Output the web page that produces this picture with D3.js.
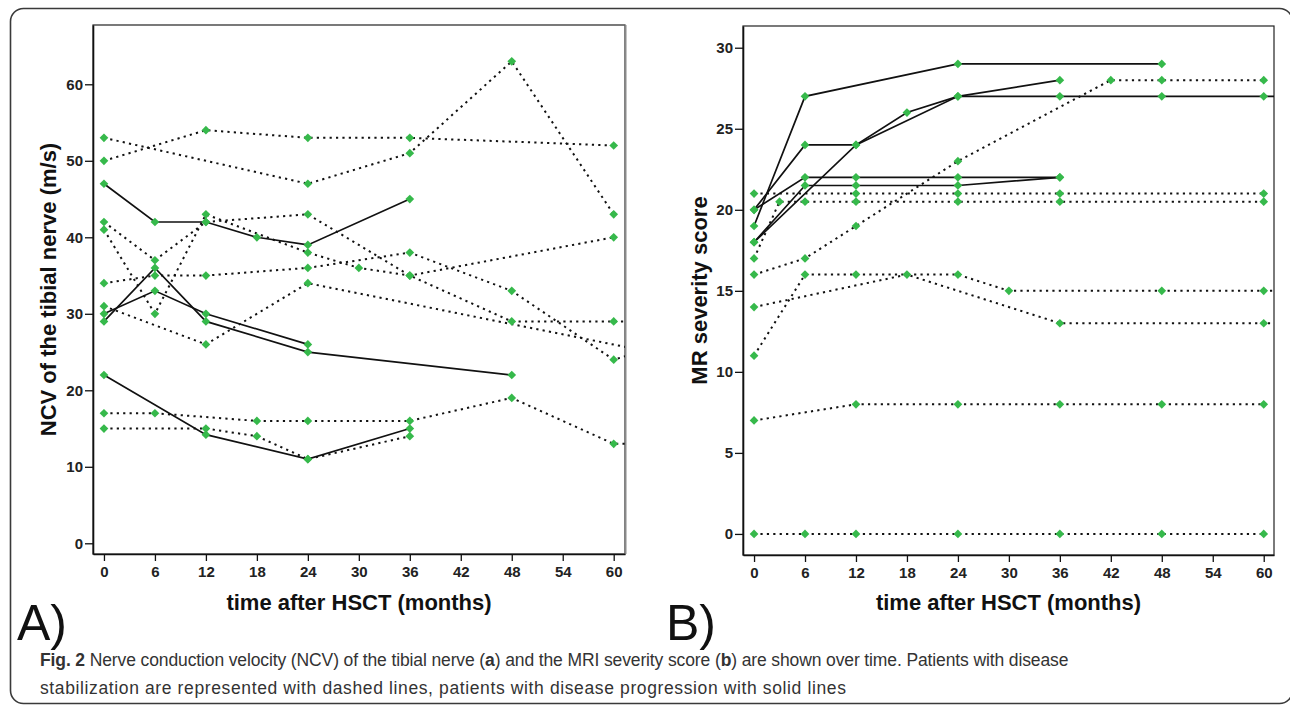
<!DOCTYPE html>
<html>
<head>
<meta charset="utf-8">
<script src="https://d3js.org/d3.v7.min.js"></script>
<style>
body { margin: 0; background: #fff; }
text { font-family: "Liberation Sans", Arial, sans-serif; }
</style>
</head>
<body>
<script>
// tick values
const months = [0, 6, 12, 18, 24, 30, 36, 42, 48, 54, 60];
const ncvTicks = [0, 10, 20, 30, 40, 50, 60];
const mrTicks = [0, 5, 10, 15, 20, 25, 30];

// A) NCV of the tibial nerve (m/s), one array per patient: [month, value]
// points past 60 months fall outside the frame and only show as clipped lines
const ncvStable = [
    [[0, 53], [24, 47], [36, 51], [48, 63], [60, 43]],
    [[0, 50], [12, 54], [24, 53], [36, 53], [60, 52]],
    [[0, 42], [6, 37], [12, 42], [24, 43], [36, 35], [48, 29], [60, 29], [72, 29]],
    [[0, 41], [6, 30], [12, 43], [24, 38], [30, 36], [36, 35], [60, 40]],
    [[0, 34], [6, 35], [12, 35], [24, 36], [36, 38], [48, 33], [60, 24], [72, 28]],
    [[0, 31], [12, 26], [24, 34], [72, 23.3]],
    [[0, 17], [6, 17], [18, 16], [24, 16], [36, 16], [48, 19], [60, 13], [72, 13]],
    [[0, 15], [12, 15], [18, 14], [24, 11], [36, 14]]
];
const ncvProgression = [
    [[0, 47], [6, 42], [12, 42], [18, 40], [24, 39], [36, 45]],
    [[0, 30], [6, 33], [12, 30], [24, 26]],
    [[0, 29], [6, 36], [12, 29], [24, 25], [48, 22]],
    [[0, 22], [12, 14.2], [24, 11], [36, 15]]
];

// B) MR severity score
const mrStable = [
    [[0, 21], [12, 21], [24, 21], [36, 21], [60, 21]],
    [[0, 17], [3, 20.5], [6, 20.5], [12, 20.5], [24, 20.5], [36, 20.5], [60, 20.5]],
    [[0, 16], [6, 17], [12, 19], [24, 23], [42, 28], [48, 28], [60, 28]],
    [[0, 14], [18, 16], [36, 13], [60, 13], [72, 13]],
    [[0, 11], [6, 16], [12, 16], [24, 16], [30, 15], [48, 15], [60, 15], [72, 15]],
    [[0, 7], [12, 8], [24, 8], [36, 8], [48, 8], [60, 8]],
    [[0, 0], [6, 0], [12, 0], [24, 0], [36, 0], [48, 0], [60, 0]]
];
const mrProgression = [
    [[0, 19], [6, 27], [24, 29], [48, 29]],
    [[0, 20], [6, 24], [12, 24], [18, 26], [24, 27], [36, 28]],
    [[0, 18], [12, 24], [24, 27], [36, 27], [48, 27], [60, 27], [72, 27]],
    [[0, 20], [6, 22], [12, 22], [24, 22], [36, 22]],
    [[0, 18], [6, 21.5], [12, 21.5], [24, 21.5], [36, 22]]
];

const width = 1290, height = 711;
const green = "#36b94b";

let svg = d3.select("body").append("svg")
    .attr("width", width)
    .attr("height", height);

// rounded figure border
svg.append("rect")
    .attr("x", 10.5).attr("y", 8.5)
    .attr("width", 1282).attr("height", 695)
    .attr("rx", 13)
    .attr("fill", "none")
    .attr("stroke", "#3a3a3a")
    .attr("stroke-width", 1.6);

function drawPanel(p) {
    let xScale = d3.scaleLinear().domain(p.xDomain).range([p.left, p.right]);
    let yScale = d3.scaleLinear().domain(p.yDomain).range([p.bottom, p.top]);

    let g = svg.append("g");

    g.append("clipPath").attr("id", p.id + "clip")
        .append("rect")
        .attr("x", p.left).attr("y", p.top)
        .attr("width", p.right - p.left).attr("height", p.bottom - p.top);

    // plot frame
    g.append("rect")
        .attr("x", p.left).attr("y", p.top)
        .attr("width", p.right - p.left).attr("height", p.bottom - p.top)
        .attr("fill", "none")
        .attr("stroke", "#222")
        .attr("stroke-width", 1.2);
    if (p.grayRight) {
        g.append("line")
            .attr("x1", p.right + 0.5).attr("x2", p.right + 0.5)
            .attr("y1", p.top).attr("y2", p.bottom)
            .attr("stroke", "#8a8a8a").attr("stroke-width", 2);
    }

    let xAxis = d3.axisBottom(xScale).tickValues(months).tickSize(7).tickSizeOuter(0).tickPadding(5);
    let yAxis = d3.axisLeft(yScale).tickValues(p.yTicks).tickSize(8).tickSizeOuter(0).tickPadding(2);

    g.append("g")
        .attr("transform", "translate(0," + p.bottom + ")")
        .call(xAxis);
    g.append("g")
        .attr("transform", "translate(" + p.left + ",0)")
        .call(yAxis);

    g.selectAll(".domain").attr("stroke", "#111").attr("stroke-width", 1.6);
    g.selectAll(".tick line").attr("stroke", "#111").attr("stroke-width", 1.3);
    g.selectAll(".tick text")
        .attr("fill", "#222")
        .style("font-size", "15px")
        .style("font-weight", "bold")
        .style("font-family", "'Liberation Sans', Arial, sans-serif");

    let line = d3.line()
        .x(d => xScale(d[0]))
        .y(d => yScale(d[1]));

    let lines = g.append("g").attr("clip-path", "url(#" + p.id + "clip)");

    lines.selectAll("path.stable")
        .data(p.stable)
        .enter().append("path")
        .attr("class", "stable")
        .attr("d", line)
        .attr("fill", "none")
        .attr("stroke", "#111")
        .attr("stroke-width", 2)
        .attr("stroke-dasharray", "2.2,4.2");

    lines.selectAll("path.progression")
        .data(p.progression)
        .enter().append("path")
        .attr("class", "progression")
        .attr("d", line)
        .attr("fill", "none")
        .attr("stroke", "#111")
        .attr("stroke-width", 1.7);

    let points = p.stable.concat(p.progression).flat()
        .filter(d => d[0] <= 60);
    let diamond = d3.symbol().type(d3.symbolSquare).size(38);

    g.append("g").selectAll("path")
        .data(points)
        .enter().append("path")
        .attr("d", diamond)
        .attr("transform", d => "translate(" + xScale(d[0]) + "," + yScale(d[1]) + ") rotate(45)")
        .attr("fill", green);

    // axis titles
    g.append("text")
        .attr("x", (p.left + p.right) / 2)
        .attr("y", 610)
        .attr("text-anchor", "middle")
        .style("font-size", "22px")
        .style("font-weight", "bold")
        .attr("fill", "#111")
        .text("time after HSCT (months)");

    g.append("text")
        .attr("transform", "translate(" + p.yTitleX + "," + ((p.top + p.bottom) / 2) + ") rotate(-90)")
        .attr("text-anchor", "middle")
        .attr("dy", "0.36em")
        .style("font-size", "22px")
        .style("font-weight", "bold")
        .attr("fill", "#111")
        .text(p.yTitle);

    // panel letter
    g.append("text")
        .attr("x", p.labelX)
        .attr("y", 640)
        .style("font-size", "50px")
        .attr("fill", "#111")
        .text(p.label);
}

drawPanel({
    id: "a", left: 93, right: 625, top: 25, bottom: 554,
    xDomain: [-1.29, 61.33], yDomain: [-1.4, 67.75],
    yTicks: ncvTicks, stable: ncvStable, progression: ncvProgression,
    yTitle: "NCV of the tibial nerve (m/s)", yTitleX: 48,
    label: "A)", labelX: 17, grayRight: true
});

drawPanel({
    id: "b", left: 743, right: 1274, top: 26, bottom: 555,
    xDomain: [-1.3, 61.21], yDomain: [-1.3, 31.34],
    yTicks: mrTicks, stable: mrStable, progression: mrProgression,
    yTitle: "MR severity score", yTitleX: 699,
    label: "B)", labelX: 666, grayRight: false
});

// caption
let cap1 = svg.append("text")
    .attr("x", 40).attr("y", 666)
    .style("font-size", "17.5px")
    .style("letter-spacing", "-0.12px")
    .attr("fill", "#333");
cap1.append("tspan").style("font-weight", "bold").text("Fig. 2");
cap1.append("tspan").text(" Nerve conduction velocity (NCV) of the tibial nerve (");
cap1.append("tspan").style("font-weight", "bold").text("a");
cap1.append("tspan").text(") and the MRI severity score (");
cap1.append("tspan").style("font-weight", "bold").text("b");
cap1.append("tspan").text(") are shown over time. Patients with disease");

svg.append("text")
    .attr("x", 40).attr("y", 694)
    .style("font-size", "17.5px")
    .style("letter-spacing", "0.62px")
    .attr("fill", "#333")
    .text("stabilization are represented with dashed lines, patients with disease progression with solid lines");
</script>
</body>
</html>
